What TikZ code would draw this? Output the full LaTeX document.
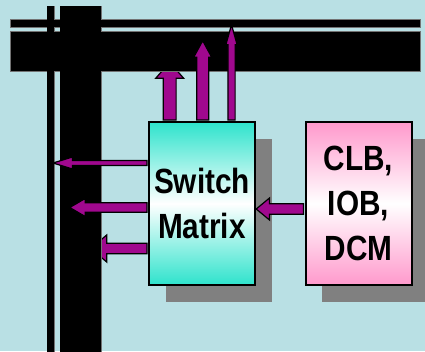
\documentclass[tikz,border=0pt]{standalone}
\usepackage{fontspec}
\setmainfont{Liberation Sans}
\newfontfamily\boxfont[FakeStretch=0.85]{Liberation Sans}
\usetikzlibrary{calc,shadows}
\definecolor{bgblue}{HTML}{B9E0E4}
\definecolor{wire}{HTML}{A0088E}
\definecolor{smcyan}{HTML}{2EE3CC}
\definecolor{clbpink}{HTML}{FF99CC}
\definecolor{shadowgray}{HTML}{808080}
\tikzset{
  blockbox/.style={draw, line width=2pt, align=center, inner sep=0pt,
    minimum width=106pt, minimum height=163pt,
    font=\boxfont\bfseries\fontsize{35}{45}\selectfont,
    drop shadow={shadow xshift=16.5pt, shadow yshift=-16.5pt, fill=shadowgray, opacity=1}},
  bar/.style={fill=black, draw=black!55, line width=0.6pt},
  arrowbody/.style={fill=wire, draw=black, line width=1.2pt, line join=miter}
}
\newcommand{\barrow}[6]{\draw[arrowbody, shift={#1}, rotate=#2] (0,-#4) -- ({#3-#6},-#4) -- ({#3-#6},-#5) -- (#3,0) -- ({#3-#6},#5) -- ({#3-#6},#4) -- (0,#4) -- cycle;}
\begin{document}
\begin{tikzpicture}[x=1pt,y=-1pt]
\fill[bgblue] (0,0) rectangle (425,351);
\useasboundingbox (0,0) rectangle (425,351);
\node[blockbox, top color=smcyan, bottom color=smcyan, middle color=white] (sm) at (202,203.5) {Switch\\Matrix};
\node[blockbox, top color=clbpink, bottom color=clbpink, middle color=white] (clb) at (358.5,203.5) {CLB,\\IOB,\\DCM};
\barrow{($(sm.north)+(-32.3,-1)$)}{90}{57.7}{6.4}{14}{16}
\barrow{($(sm.west)+(-1,45)$)}{180}{56.3}{5.3}{13.5}{16}
\draw[bar] (47,6) rectangle (54,360);
\draw[bar] (60,6) rectangle (101,360);
\draw[bar] (10,19) rectangle (420,27);
\draw[bar] (10,31) rectangle (420,71);
\fill (47.3,6.3) rectangle (53.7,360);
\fill (60.3,6.3) rectangle (100.7,360);
\barrow{($(sm.north)+(0.7,-1)$)}{90}{79.3}{6}{9}{16.6}
\barrow{($(sm.north)+(29.5,-1)$)}{90}{95.3}{3.6}{5.6}{20}
\barrow{($(sm.west)+(-1,-40.5)$)}{180}{94}{2.5}{6}{19.5}
\barrow{($(sm.west)+(-1,4)$)}{180}{77.3}{4.7}{9}{15.5}
\barrow{($(clb.west)+(-1,5.5)$)}{180}{47.3}{5.3}{11}{13.3}
\end{tikzpicture}
\end{document}
